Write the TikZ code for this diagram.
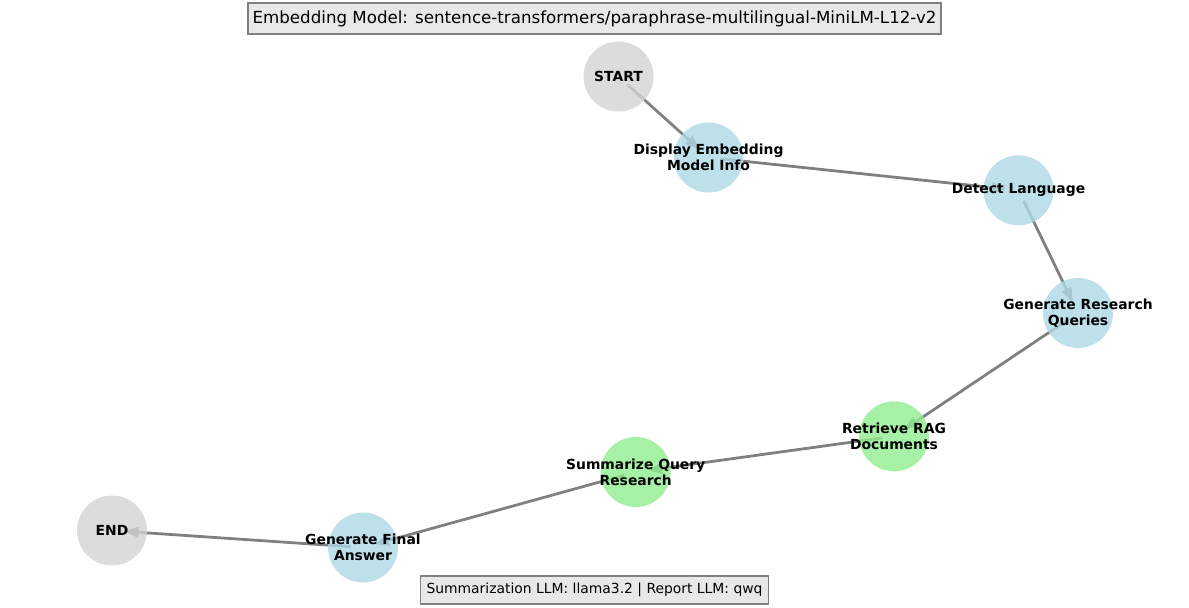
\documentclass[tikz,border=0pt]{standalone}
\usepackage{fontspec}
\setmainfont{DejaVu Sans}
\usetikzlibrary{arrows.meta,backgrounds}
\definecolor{nodeblue}{HTML}{ADD8E6}
\definecolor{nodegreen}{HTML}{90EE90}
\definecolor{nodegray}{HTML}{D3D3D3}
\definecolor{edgegray}{HTML}{808080}
\definecolor{boxfill}{HTML}{E8E8E8}
\tikzset
{
    stepnode/.style  = {circle, minimum size=50.4pt, inner sep=0pt, fill opacity=0.8},
    steptext/.style  = {align=center, inner sep=0pt, text opacity=1, fill opacity=1, font=\bfseries\fontsize{10}{11.5}\selectfont},
    endpoint/.style  = {stepnode, fill=nodegray},
    tasknode/.style  = {stepnode, fill=nodeblue},
    ragnode/.style   = {stepnode, fill=nodegreen},
    flow/.style      = {draw=edgegray, line width=2pt, -{Triangle[length=10.5pt,width=7.5pt]}, shorten <=8.6pt, shorten >=8.6pt},
    infobox/.style   = {draw=gray, fill=boxfill, line width=0.8pt, inner sep=0pt}
}

\begin{document}
\begin{tikzpicture}[x=0.72pt, y=-0.72pt]
\useasboundingbox (0,0) rectangle (1189,607);
% workflow steps
\node[endpoint, label={[steptext]center:START}] (start) at (618.5,76.5) {};
\node[tasknode, label={[steptext]center:Display Embedding\\Model Info}] (display) at (708.5,157.5) {};
\node[tasknode, label={[steptext]center:Detect Language}] (detect) at (1018.5,190.3) {};
\node[tasknode, label={[steptext]center:Generate Research\\Queries}] (queries) at (1078,313) {};
\node[ragnode, label={[steptext]center:Retrieve RAG\\Documents}] (retrieve) at (894,436.3) {};
\node[ragnode, label={[steptext]center:Summarize Query\\Research}] (summarize) at (635.7,472) {};
\node[tasknode, label={[steptext]center:Generate Final\\Answer}] (final) at (363,547.5) {};
\node[endpoint, label={[steptext]center:END}] (stop) at (112,530.5) {};
% edges go under the circles
\begin{pgfonlayer}{background}
\draw[flow] (start.center) -- (display.center);
\draw[flow] (display.center) -- (detect.center);
\draw[flow] (detect.center) -- (queries.center);
\draw[flow] (queries.center) -- (retrieve.center);
\draw[flow] (retrieve.center) -- (summarize.center);
\draw[flow] (summarize.center) -- (final.center);
\draw[flow] (final.center) -- (stop.center);
\end{pgfonlayer}
% model info
\node[infobox, minimum width=499pt, minimum height=22.3pt, font=\fontsize{12}{14}\selectfont] (embedinfo) at (594.5,18.5) {Embedding Model: sentence-transformers/paraphrase-multilingual-MiniLM-L12-v2};
\node[infobox, minimum width=251pt, minimum height=20.2pt, font=\fontsize{10}{12}\selectfont] (llminfo) at (594.5,590) {Summarization LLM: llama3.2 | Report LLM: qwq};
\end{tikzpicture}
\end{document}
